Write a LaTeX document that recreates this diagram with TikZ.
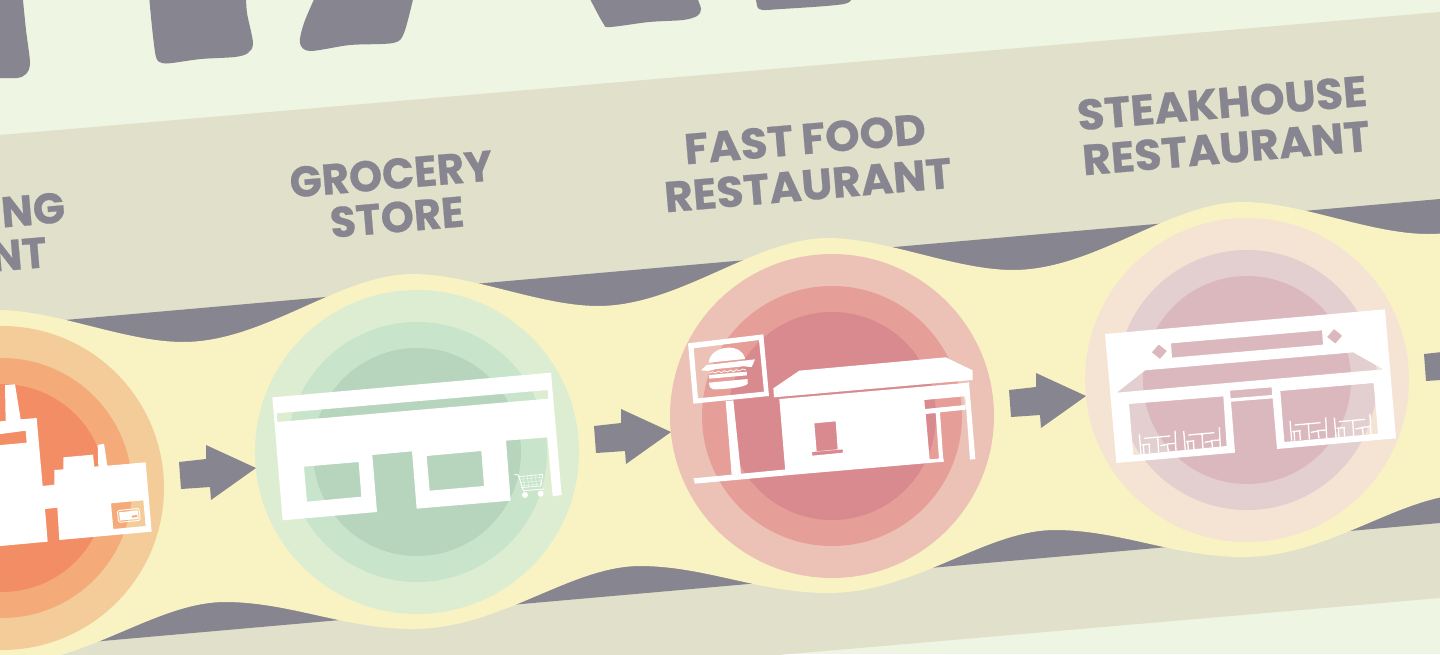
\documentclass[tikz,border=0pt]{standalone}
\usepackage{fontspec}
\setmainfont{Poppins}[BoldFeatures={FakeBold=0.5}]
\definecolor{bgc}{HTML}{EFF5E3}
\definecolor{bandc}{HTML}{E1E0CB}
\definecolor{grayc}{HTML}{87858F}
\definecolor{yelc}{HTML}{F9F2C3}
\definecolor{oa}{HTML}{F3CC99}\definecolor{ob}{HTML}{F4AB79}\definecolor{oc}{HTML}{F38D66}
\definecolor{ga}{HTML}{DDEDD2}\definecolor{gb}{HTML}{C8E4CA}\definecolor{gc}{HTML}{B7D4BD}
\definecolor{ra}{HTML}{EBC2B5}\definecolor{rb}{HTML}{E59E98}\definecolor{rc}{HTML}{D88A8F}
\definecolor{sa}{HTML}{F5E3D3}\definecolor{sb}{HTML}{E3CFCF}\definecolor{sc}{HTML}{DAB8BE}
\tikzset{
  lbl/.style={inner sep=0pt,text=grayc,font=\bfseries\fontsize{43}{43}\selectfont,rotate=4.9},
  ico/.style={fill=white,even odd rule},
  thin white/.style={draw=white,line width=1.3pt},
}
\begin{document}
\begin{tikzpicture}[x=1pt,y=-1pt]
\useasboundingbox (0,0) rectangle (1440,654);
\clip (0,0) rectangle (1440,654);
\fill[bgc] (0,0) rectangle (1440,654);
% top blobs
\fill[grayc] (-5,-5) -- (23,-5) -- plot[smooth] coordinates {(23,0)(26,30)(30,63)(26,74)(17,78)(-5,78)} -- cycle;
\fill[grayc] plot[smooth] coordinates {(149,-5)(152,27)(156,57)(162,63)(172,63)(201,59)(235,57)(248,53)(253,43)(247,13)(246,-5)} -- cycle;
\fill[grayc] plot[smooth] coordinates {(316,-5)(304,23)(300,43)(310,51)(350,45)(393,43)(404,33)(414,-5)} -- cycle;
\fill[grayc] plot[smooth] coordinates {(588,-5)(603,23)(610,27)(649,22)(683,20)(697,16)(701,9)(696,-5)} -- cycle;
\fill[grayc] plot[smooth] coordinates {(756,-5)(759,9)(781,9)(844,4)(853,-5)} -- cycle;
% band
\fill[bandc] (0,135) -- (1440,12) -- (1440,598) -- (0,722) -- cycle;
% gray stripe
\fill[grayc] (0,325.7) -- (1440,199) -- (1440,523) -- (0,650) -- cycle;
% yellow ribbon
\fill[yelc] (-2,310)
 .. controls (55,310) and (125,342) .. (183,342)
 .. controls (265,342) and (340,274) .. (413,274)
 .. controls (470,274) and (540,306) .. (598,306)
 .. controls (680,306) and (755,238) .. (828,238)
 .. controls (885,238) and (955,270) .. (1013,270)
 .. controls (1095,270) and (1170,202) .. (1243,202)
 .. controls (1300,202) and (1370,234) .. (1428,234)
 .. controls (1470,234) and (1500,220) .. (1520,210)
 -- (1520,470) -- (1470,494)
 .. controls (1400,494) and (1330,557) .. (1243,557)
 .. controls (1175,557) and (1120,530) .. (1055,530)
 .. controls (985,530) and (915,593) .. (828,593)
 .. controls (760,593) and (705,566) .. (640,566)
 .. controls (570,566) and (500,629) .. (413,629)
 .. controls (345,629) and (290,602) .. (225,602)
 .. controls (155,602) and (85,665) .. (-2,665)
 -- cycle;
% circles
\foreach \cx/\cy/\ca/\cb/\cc in {2/488/oa/ob/oc,417/452/ga/gb/gc,832/416/ra/rb/rc,1247/380/sa/sb/sc}{
  \fill[\ca] (\cx,\cy) circle[radius=162];
  \fill[\cb] (\cx,\cy) circle[radius=130];
  \fill[\cc] (\cx,\cy) circle[radius=104];
}
% arrows
\foreach \i in {0,1,2,3}{
  \fill[grayc,shift={(415*\i,-36*\i)}] (179,462) -- (206,459) -- (206,445) -- (256,468) -- (211,500) -- (210,487) -- (181,489) -- cycle;
}
% labels
\node[lbl,anchor=east,xscale=.98] (t1a) at (65,207) {ING};
\node[lbl,anchor=east,xscale=.98] (t1b) at (47,252) {NT};
\node[lbl,xscale=.98] (t2a) at (391,174) {GROCERY};
\node[lbl,xscale=.98] (t2b) at (397,217) {STORE};
\node[lbl,xscale=1.02] (t3a) at (805,139) {FAST\hspace{8pt}FOOD};
\node[lbl,xscale=1.02] (t3b) at (808,185) {RESTAURANT};
\node[lbl,xscale=1.03] (t4a) at (1222,103) {STEAKHOUSE};
\node[lbl,xscale=1.02] (t4b) at (1226,148) {RESTAURANT};
% factory
\begin{scope}[shift={(0,340)},scale=.33333]
\path[ico] (15,135) -- (45,133) -- (62,238) -- (110,234) -- (128,438) -- (163,434) -- (163,390) -- (190,388) -- (190,352) -- (279,344) -- (283,380) -- (295,379) -- (293,315) -- (312,311) -- (322,377) -- (437,367) -- (455,575) -- (178,600) -- (172,503) -- (135,507) -- (143,605) -- (-20,620) -- (-20,245) -- (17,243) -- cycle
 (-20,285) -- (77,272) -- (80,308) -- (-20,317) -- cycle
 (333,490) -- (430,481) -- (437,558) -- (340,567) -- cycle;
\draw[thin white,line width=.9pt,rounded corners=2pt] (352,512) -- (417,505) -- (421,541) -- (356,547) -- cycle;
\fill[white] (357,517) -- (413,511) -- (416,536) -- (360,542) -- cycle;
\fill[ob] (395,527) -- (411,525) -- (412,531) -- (396,533) -- cycle;
\end{scope}
% grocery
\begin{scope}[shift={(260,360)},scale=.33333]
\path[ico] (37,112) -- (873,38) -- (905,405) -- (878,409) -- (862,232) -- (738,242) -- (752,422) -- (470,446) -- (456,274) -- (337,285) -- (351,456) -- (68,481) -- cycle
 (50,160) -- (863,90) -- (865,116) -- (52,186) -- cycle
 (132,320) -- (296,306) -- (304,410) -- (141,425) -- cycle
 (500,288) -- (664,273) -- (672,378) -- (509,392) -- cycle;
\draw[white,line width=.9pt] (763,343) -- (775,345) -- (790,392) -- (853,387);
\draw[white,line width=.7pt] (775,350) -- (848,343) -- (843,378) -- (783,383);
\foreach \k in {0,1,2,3,4}{\draw[white,line width=.3pt] (790+12*\k,349-1*\k) -- (794+12*\k,382-1*\k);}
\foreach \k in {0,1,2}{\draw[white,line width=.3pt] (779,358+10*\k) -- (846,352+10*\k);}
\fill[white] (795,405) circle[radius=9];
\fill[white] (842,401) circle[radius=9];
\end{scope}
% fast food
\begin{scope}[shift={(680,325)},scale=.33333]
\path[ico] (24,55) -- (250,28) -- (267,213) -- (40,236) -- cycle
 (41,70) -- (237,45) -- (252,200) -- (54,220) -- cycle;
\fill[white] (137,228) -- (160,226) -- (183,447) -- (155,450) -- cycle;
\fill[white] (40,460) -- (320,433) -- (790,400) -- (792,410) -- (330,450) -- (45,476) -- cycle;
\path[ico] (298,222) -- (855,174) -- (857,254) -- (780,262) -- (790,408) -- (316,440) -- cycle
 (733,225) -- (853,214) -- (855,240) -- (735,252) -- cycle
 (737,267) -- (767,264) -- (777,401) -- (749,405) -- cycle
 (403,295) -- (467,289) -- (473,373) -- (410,379) -- cycle
 (396,381) -- (488,373) -- (489,383) -- (397,392) -- cycle;
\fill[white] (853,174) -- (867,172) -- (886,402) -- (870,404) -- cycle;
\fill[white] (280,190) -- (358,137) -- (797,97) -- (878,136) -- (878,165) -- (282,217) -- cycle;
% burger
\fill[white] (86,113) .. controls (88,82) and (122,68) .. (145,68) .. controls (170,67) and (192,80) .. (195,102) -- cycle;
\fill[white] (63,136) -- (80,120) -- (225,103) -- (215,126) -- (190,124) -- (150,128) -- (110,132) -- (85,138) -- cycle;
\draw[white,line width=.8pt] (88,145) -- (97,140) -- (106,144) -- (115,138) -- (124,143) -- (133,137) -- (142,141) -- (151,135) -- (160,140) -- (169,134) -- (178,138) -- (187,132) -- (198,135);
\fill[white] (87,150) -- (200,140) -- (201,151) -- (88,161) -- cycle;
\fill[white] (87,173) -- (203,162) -- (203,176) .. controls (195,188) and (130,193) .. (100,193) .. controls (92,192) and (88,186) .. (87,173) -- cycle;
\end{scope}
% steakhouse
\begin{scope}[shift={(1095,300)},scale=.33333]
\path[ico] (30,102) -- (870,28) -- (903,415) -- (546,447) -- (533,295) -- (408,305) -- (420,458) -- (64,489) -- cycle
 (405,272) -- (530,262) -- (531,285) -- (407,295) -- cycle
 (228,130) -- (681,91) -- (684,134) -- (231,173) -- cycle
 (170,157) -- (191,133) -- (216,153) -- (195,177) -- cycle
 (696,111) -- (717,87) -- (742,107) -- (721,131) -- cycle
 (150,211) -- (775,157) -- (865,208) -- (65,278) -- cycle
 (102,312) -- (385,289) -- (395,438) -- (115,465) -- cycle
 (556,273) -- (836,249) -- (849,401) -- (568,426) -- cycle;
\foreach \dx/\dy in {0/0,133/-10,452/-40,585/-50}{
\begin{scope}[shift={(\dx,\dy)}]
\draw[thin white] (133,403) -- (138,462) (140,435) -- (165,432) (145,432) -- (147,462) (162,432) -- (164,460)
 (147,415) -- (225,408) (188,410) -- (191,458) (196,437) -- (218,433) (240,392) -- (243,455) (215,432) -- (240,430) (217,432) -- (220,455);
\end{scope}}
\end{scope}
\end{tikzpicture}
\end{document}
